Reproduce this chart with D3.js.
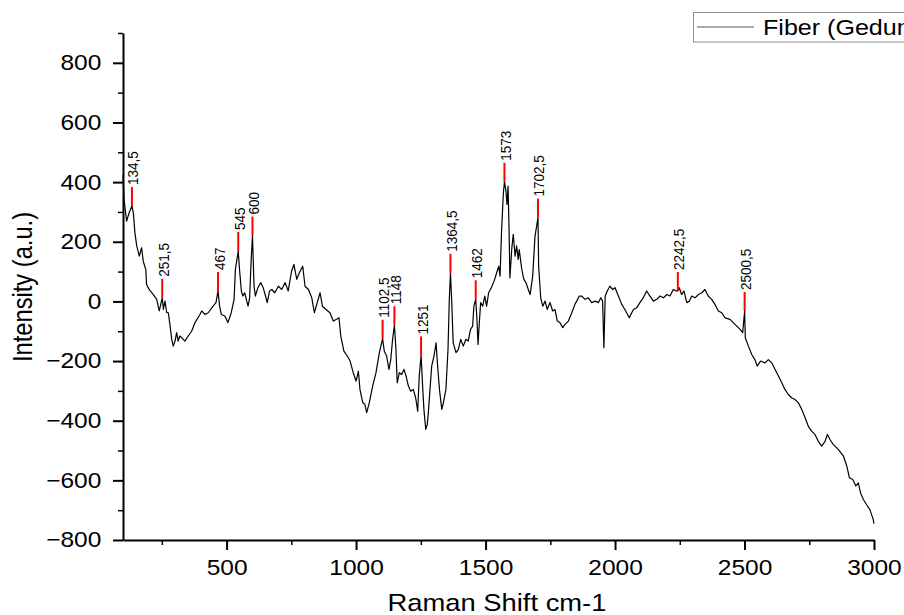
<!DOCTYPE html>
<html>
<head>
<meta charset="utf-8">
<script src="https://cdn.jsdelivr.net/npm/d3@7"></script>
<style>
body { margin: 0; background: #fff; }
text { font-family: "Liberation Sans", Arial, sans-serif; fill: #000; }
</style>
</head>
<body>
<div id="chart"></div>
<script>
// Raman spectrum
let shift = [100,104,114,124,134.5,140,146,153,163,172,178,188,191,201,217,230,240,251.5,256,262,269,275,282,288,294,301,307,313,319,327,339,352,365,378,397,404,417,429,448,459,467,473,480,493,505,518,529,534,545,550,557,563,570,576,583,589,595,600,606,611,621,632,641,647,657,666,675,686,700,713,726,738,751,760,771,781,794,803,816,829,839,850,861,870,884,899,912,925,934,941,953,966,977,989,1000,1009,1015,1026,1034,1041,1051,1064,1077,1090,1102.5,1109,1118,1127,1134,1141,1148,1154,1159,1167,1176,1185,1193,1202,1211,1221,1230,1238,1244,1251,1257,1262,1269,1275,1279,1292,1301,1309,1314,1322,1331,1337,1347,1355,1360,1364.5,1369,1375,1386,1395,1404,1414,1424,1433,1442,1450,1455,1462,1466,1471,1476,1481,1489,1497,1504,1512,1522,1533,1543,1551,1556,1562,1569,1573,1578,1583,1587,1591,1594,1601,1607,1614,1620,1626,1630,1640,1648,1656,1665,1672,1682,1691,1702.5,1705,1713,1721,1730,1738,1749,1759,1768,1777,1787,1798,1807,1820,1833,1845,1852,1862,1871,1884,1897,1910,1923,1936,1945,1952,1957,1962,1970,1980,1991,2000,2013,2026,2038,2055,2071,2084,2096,2109,2122,2135,2148,2161,2174,2187,2200,2212,2225,2236,2242.5,2248,2257,2266,2277,2287,2296,2309,2322,2335,2347,2360,2373,2386,2399,2412,2425,2444,2463,2483,2493,2500.5,2503,2515,2528,2540,2549,2562,2579,2592,2605,2618,2631,2644,2656,2669,2682,2695,2708,2721,2734,2746,2759,2772,2785,2798,2811,2820,2830,2843,2862,2882,2895,2905,2918,2930,2939,2948,2959,2971,2984,2997,3000];
let intensity = [426,342,269,298,320,297,230,186,152,180,135,107,57,40,23,7,-32,12,-27,1,-38,-38,-83,-127,-150,-133,-105,-133,-116,-122,-133,-116,-100,-71,-44,-32,-44,-38,-16,-4,35,-16,-44,-49,-71,-38,7,107,169,107,35,18,29,7,-16,12,141,221,51,18,46,63,46,29,-4,35,40,29,51,40,63,35,102,124,74,96,118,51,40,12,-38,-4,29,-16,-27,-38,-66,-60,-55,-116,-167,-183,-200,-239,-267,-234,-295,-340,-345,-373,-340,-284,-239,-172,-125,-167,-183,-228,-195,-127,-80,-161,-273,-239,-245,-228,-250,-284,-301,-295,-323,-368,-250,-181,-284,-362,-429,-413,-373,-217,-183,-139,-206,-295,-362,-340,-295,-161,7,96,7,-139,-172,-161,-127,-150,-127,-133,-94,-83,-16,7,-49,-144,-71,-4,-16,18,-16,29,46,68,96,118,85,241,365,401,376,325,387,230,79,174,225,152,186,141,174,107,74,63,40,23,85,219,281,118,12,-16,1,-27,-4,-32,-27,-66,-71,-88,-77,-66,-38,-10,1,18,18,7,12,-4,1,-4,12,1,-155,18,35,51,40,46,18,-10,-27,-55,-27,-21,-4,12,35,18,1,7,18,12,23,18,40,35,35,46,23,35,-4,1,18,12,23,29,40,18,7,-10,-32,-38,-55,-60,-77,-94,-105,-32,-122,-150,-178,-195,-217,-200,-206,-195,-206,-228,-250,-273,-295,-312,-323,-329,-340,-362,-390,-418,-435,-446,-469,-485,-469,-446,-463,-480,-496,-519,-552,-591,-597,-619,-608,-642,-664,-681,-698,-731,-745];

let peakShift = [134.5,251.5,467,545,600,1102.5,1148,1251,1364.5,1462,1573,1702.5,2242.5,2500.5];
let peakIntensity = [320,12,35,169,221,-125,-80,-181,96,7,401,281,35,-32];
let peakLabels = ['134,5','251,5','467','545','600','1102,5','1148','1251','1364,5','1462','1573','1702,5','2242,5','2500,5'];

let xMajor = [500,1000,1500,2000,2500,3000];
let xMinor = [250,750,1250,1750,2250,2750];
let yMajor = [-800,-600,-400,-200,0,200,400,600,800];
let yMinor = [-700,-500,-300,-100,100,300,500,700,900];

let seriesName = 'Fiber (Gedung)';
let xTitle = 'Raman Shift cm-1';
let yTitle = 'Intensity (a.u.)';

let width = 904;
let height = 615;
let stretch = 1.14; // the picture is a bit wider than tall

let x = d3.scaleLinear().domain([100, 3000]).range([123, 874]);
let y = d3.scaleLinear().domain([-800, 900]).range([540, 33]);

let svg = d3.select('#chart')
	.append('svg')
	.attr('width', width)
	.attr('height', height);

svg.append('rect').attr('width', width).attr('height', height).attr('fill', '#fff');

// minor ticks
svg.append('g')
	.attr('transform', `translate(0,${y(-800)})`)
	.call(d3.axisBottom(x).tickValues(xMinor).tickSize(5).tickFormat(''))
	.call(g => g.select('.domain').remove())
	.selectAll('line').attr('stroke', '#000').attr('stroke-width', 1.5);

svg.append('g')
	.attr('transform', `translate(${x(100)},0)`)
	.call(d3.axisLeft(y).tickValues(yMinor).tickSize(5).tickFormat(''))
	.call(g => g.select('.domain').remove())
	.selectAll('line').attr('stroke', '#000').attr('stroke-width', 1.5);

// major axes
let gx = svg.append('g')
	.attr('transform', `translate(0,${y(-800)})`)
	.call(d3.axisBottom(x).tickValues(xMajor).tickSize(10).tickSizeOuter(0).tickPadding(10).tickFormat(d3.format('d')));

let gy = svg.append('g')
	.attr('transform', `translate(${x(100)},0)`)
	.call(d3.axisLeft(y).tickValues(yMajor).tickSize(10).tickSizeOuter(0).tickPadding(9).tickFormat(d => d < 0 ? '\u2212' + Math.abs(d) : d));

[gx, gy].forEach(g => {
	g.select('.domain').attr('stroke', '#000').attr('stroke-width', 2);
	g.selectAll('line').attr('stroke', '#000').attr('stroke-width', 2);
	g.selectAll('text')
		.attr('font-size', 21.5)
		.attr('font-family', '"Liberation Sans", Arial, sans-serif')
		.attr('fill', '#000')
		.attr('transform', `scale(${stretch},1)`);
});

// spectrum
let line = d3.line()
	.x((d, i) => x(shift[i]))
	.y((d, i) => y(intensity[i]));

svg.append('path')
	.attr('d', line(shift))
	.attr('fill', 'none')
	.attr('stroke', '#000')
	.attr('stroke-width', 1.2)
	.attr('stroke-linejoin', 'round');

// peak markers
let pk = svg.append('g');
peakShift.forEach((p, i) => {
	let px = x(p);
	let py = y(peakIntensity[i]);
	pk.append('line')
		.attr('x1', px).attr('x2', px)
		.attr('y1', py).attr('y2', py - 19)
		.attr('stroke', '#ff0000')
		.attr('stroke-width', 2);
	pk.append('text')
		.attr('transform', `translate(${px},${py - 21}) scale(${stretch},1) rotate(-90)`)
		.attr('dy', '0.42em')
		.attr('font-size', 13.5)
		.text(peakLabels[i]);
});

// axis titles
svg.append('text')
	.attr('transform', `translate(497,611) scale(${stretch},1)`)
	.attr('text-anchor', 'middle')
	.attr('font-size', 24)
	.text(xTitle);

svg.append('text')
	.attr('transform', `translate(32,287) scale(${stretch},1) rotate(-90)`)
	.attr('text-anchor', 'middle')
	.attr('font-size', 23.7)
	.text(yTitle);

// legend, running past the right edge as in the picture
let lg = svg.append('g');
lg.append('rect')
	.attr('x', 693.5).attr('y', 12.5)
	.attr('width', 240).attr('height', 29.5)
	.attr('fill', '#fff')
	.attr('stroke', '#8c8c8c');
lg.append('line')
	.attr('x1', 697).attr('x2', 754)
	.attr('y1', 27).attr('y2', 27)
	.attr('stroke', '#555')
	.attr('stroke-width', 1);
lg.append('text')
	.attr('transform', `translate(763,35) scale(${stretch},1)`)
	.attr('font-size', 22)
	.text(seriesName);
</script>
</body>
</html>
